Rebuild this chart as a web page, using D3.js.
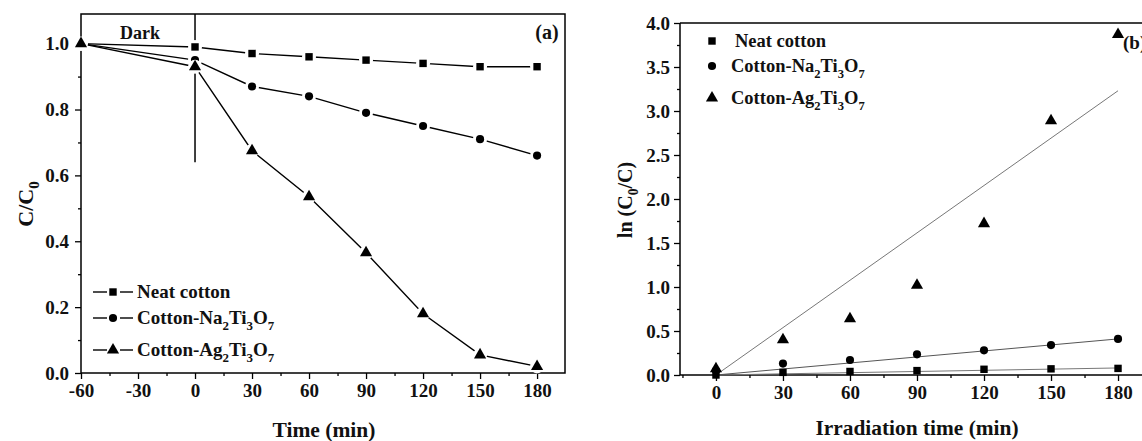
<!DOCTYPE html>
<html>
<head>
<meta charset="utf-8">
<script src="https://cdn.jsdelivr.net/npm/d3@7"></script>
<style>
  body { margin: 0; background: #fff; }
  svg text { font-family: "Liberation Serif", "Times New Roman", serif; font-weight: bold; fill: #111; }
</style>
</head>
<body>
<script>
// panel (a) data
var timeA = [-60, 0, 30, 60, 90, 120, 150, 180];
var neatA = [1.0, 0.99, 0.97, 0.96, 0.95, 0.94, 0.93, 0.93];
var naA = [1.0, 0.95, 0.87, 0.84, 0.79, 0.75, 0.71, 0.66];
var agA = [1.0, 0.93, 0.675, 0.535, 0.365, 0.18, 0.055, 0.02];
var ticksXA = [-60, -30, 0, 30, 60, 90, 120, 150, 180];
var ticksYA = [0.0, 0.2, 0.4, 0.6, 0.8, 1.0];

// panel (b) data
var timeB = [0, 30, 60, 90, 120, 150, 180];
var neatB = [0.0, 0.03, 0.04, 0.05, 0.065, 0.07, 0.075];
var naB = [0.05, 0.13, 0.17, 0.235, 0.28, 0.34, 0.41];
var agB = [0.07, 0.40, 0.64, 1.02, 1.72, 2.89, 3.87];
var fitEndB = [0.08, 0.41, 3.23]; // fitted value at 180 min, lines through origin
var ticksXB = [0, 30, 60, 90, 120, 150, 180];
var ticksYB = [0.0, 0.5, 1.0, 1.5, 2.0, 2.5, 3.0, 3.5, 4.0];

var seriesNames = ['Neat cotton', 'Cotton-Na_2Ti_3O_7', 'Cotton-Ag_2Ti_3O_7'];
var symbols = [d3.symbolSquare, d3.symbolCircle, d3.symbolTriangle];
var symSizes = [55, 52, 64];

var w = 1142, h = 441;
var svg = d3.select('body').append('svg').attr('width', w).attr('height', h);

// writes "A_2B" style labels with subscripts
function richText(sel, str) {
  var shift = 0;
  str.split(/(_\d)/).forEach(function(p) {
    if (!p) return;
    if (p[0] === '_') {
      sel.append('tspan').attr('dy', 6).attr('font-size', '0.68em').text(p.slice(1));
      shift = -6;
    } else {
      sel.append('tspan').attr('dy', shift).text(p);
      shift = 0;
    }
  });
}

function drawMarker(g, x, y, i) {
  g.append('path')
   .attr('d', d3.symbol().type(symbols[i]).size(symSizes[i])())
   .attr('transform', 'translate(' + x + ',' + y + ')')
   .attr('fill', '#000');
}

function styleAxis(size) {
  return function(g) {
    g.select('.domain').remove();
    g.attr('font-family', null).attr('font-size', null);
    g.selectAll('text').attr('font-size', size);
    g.selectAll('.tick line').attr('stroke-width', 1.3);
  };
}
function minorAxis(g) {
  g.select('.domain').remove();
  g.selectAll('text').remove();
  g.selectAll('.tick line').attr('stroke-width', 1.3);
}
var plain = function(d){ return String(d); };

// ---------- panel (a) ----------
var xA = d3.scaleLinear().domain([-60, 194.7]).range([81, 565]);
var yA = d3.scaleLinear().domain([0, 1.09]).range([373, 14]);
var gA = svg.append('g');

gA.append('rect').attr('x', 81).attr('y', 14).attr('width', 565 - 81).attr('height', 373 - 14)
  .attr('fill', 'none').attr('stroke', '#000').attr('stroke-width', 1.5);

gA.append('g').attr('transform', 'translate(0,373)')
  .call(d3.axisBottom(xA).tickValues(d3.range(-45, 181, 30)).tickSize(3))
  .call(minorAxis);
gA.append('g').attr('transform', 'translate(0,373)')
  .call(d3.axisBottom(xA).tickValues(ticksXA).tickSize(6).tickPadding(5).tickFormat(plain))
  .call(styleAxis(19));
gA.append('g').attr('transform', 'translate(81,0)')
  .call(d3.axisLeft(yA).tickValues(d3.range(0.1, 1.01, 0.2)).tickSize(3))
  .call(minorAxis);
gA.append('g').attr('transform', 'translate(81,0)')
  .call(d3.axisLeft(yA).tickValues(ticksYA).tickSize(6).tickPadding(6).tickFormat(d3.format('.1f')))
  .call(styleAxis(19));

// dark/light divider
gA.append('line').attr('x1', xA(0)).attr('x2', xA(0)).attr('y1', yA(1.09)).attr('y2', yA(0.64))
  .attr('stroke', '#000').attr('stroke-width', 1.5);
gA.append('text').attr('x', 140).attr('y', 39).attr('text-anchor', 'middle').attr('font-size', 18).text('Dark');
gA.append('text').attr('x', 547).attr('y', 39).attr('text-anchor', 'middle').attr('font-size', 20).text('(a)');

var lineA = d3.line().x(function(d){ return xA(d[0]); }).y(function(d){ return yA(d[1]); });
[neatA, naA, agA].forEach(function(vals, i) {
  var pts = timeA.map(function(t, k){ return [t, vals[k]]; });
  gA.append('path').attr('d', lineA(pts)).attr('fill', 'none').attr('stroke', '#000').attr('stroke-width', 1.4);
  pts.forEach(function(p) {
    // white halo makes the small gap between segments and markers
    gA.append('circle').attr('cx', xA(p[0])).attr('cy', yA(p[1])).attr('r', 7).attr('fill', '#fff');
  });
  pts.forEach(function(p) { drawMarker(gA, xA(p[0]), yA(p[1]), i); });
});

// legend (a)
var legA = [292, 318, 350];
seriesNames.forEach(function(name, i) {
  var y = legA[i];
  gA.append('line').attr('x1', 93).attr('x2', 107).attr('y1', y).attr('y2', y).attr('stroke', '#000').attr('stroke-width', 1.4);
  gA.append('line').attr('x1', 120).attr('x2', 133).attr('y1', y).attr('y2', y).attr('stroke', '#000').attr('stroke-width', 1.4);
  drawMarker(gA, 113, y, i);
  richText(gA.append('text').attr('x', 137).attr('y', y + 6).attr('font-size', 19), name);
});

// axis titles (a)
gA.append('text').attr('x', 324).attr('y', 437).attr('text-anchor', 'middle').attr('font-size', 21.5).text('Time (min)');
richText(gA.append('text').attr('transform', 'translate(33,204) rotate(-90)').attr('text-anchor', 'middle').attr('font-size', 22), 'C/C_0');

// ---------- panel (b) ----------
var xB = d3.scaleLinear().domain([-16.1, 197]).range([680, 1156]);
var yB = d3.scaleLinear().domain([0, 4]).range([375, 23]);
var gB = svg.append('g');

gB.append('line').attr('x1', 680).attr('x2', 1142).attr('y1', 23).attr('y2', 23).attr('stroke', '#000').attr('stroke-width', 1.5);
gB.append('line').attr('x1', 680).attr('x2', 1142).attr('y1', 375).attr('y2', 375).attr('stroke', '#000').attr('stroke-width', 1.5);
gB.append('line').attr('x1', 680).attr('x2', 680).attr('y1', 23).attr('y2', 375).attr('stroke', '#000').attr('stroke-width', 1.5);

gB.append('g').attr('transform', 'translate(0,375)')
  .call(d3.axisBottom(xB).tickValues(d3.range(-15, 196, 30)).tickSize(3))
  .call(minorAxis);
gB.append('g').attr('transform', 'translate(0,375)')
  .call(d3.axisBottom(xB).tickValues(ticksXB).tickSize(6).tickPadding(5).tickFormat(plain))
  .call(styleAxis(19));
gB.append('g').attr('transform', 'translate(680,0)')
  .call(d3.axisLeft(yB).tickValues(d3.range(0.25, 4, 0.5)).tickSize(3))
  .call(minorAxis);
gB.append('g').attr('transform', 'translate(680,0)')
  .call(d3.axisLeft(yB).tickValues(ticksYB).tickSize(6).tickPadding(4).tickFormat(d3.format('.1f')))
  .call(styleAxis(19));

// fitted lines
fitEndB.forEach(function(v, i) {
  gB.append('line').attr('x1', xB(0)).attr('y1', yB(0)).attr('x2', xB(180)).attr('y2', yB(v))
    .attr('stroke', i === 1 ? '#555' : '#777').attr('stroke-width', 1);
});

[neatB, naB, agB].forEach(function(vals, i) {
  timeB.forEach(function(t, k) { drawMarker(gB, xB(t), yB(vals[k]), i); });
});

// legend (b)
var legB = [41, 66, 98];
var legBx = [735, 731, 731];
seriesNames.forEach(function(name, i) {
  drawMarker(gB, 712, legB[i], i);
  richText(gB.append('text').attr('x', legBx[i]).attr('y', legB[i] + 6).attr('font-size', 18.5), name);
});
gB.append('text').attr('x', 1123).attr('y', 49).attr('font-size', 19).text('(b)');

gB.append('text').attr('x', 917).attr('y', 435).attr('text-anchor', 'middle').attr('font-size', 21.4).text('Irradiation time (min)');
richText(gB.append('text').attr('transform', 'translate(632,200) rotate(-90)').attr('text-anchor', 'middle').attr('font-size', 20), 'ln (C_0/C)');
</script>
</body>
</html>
